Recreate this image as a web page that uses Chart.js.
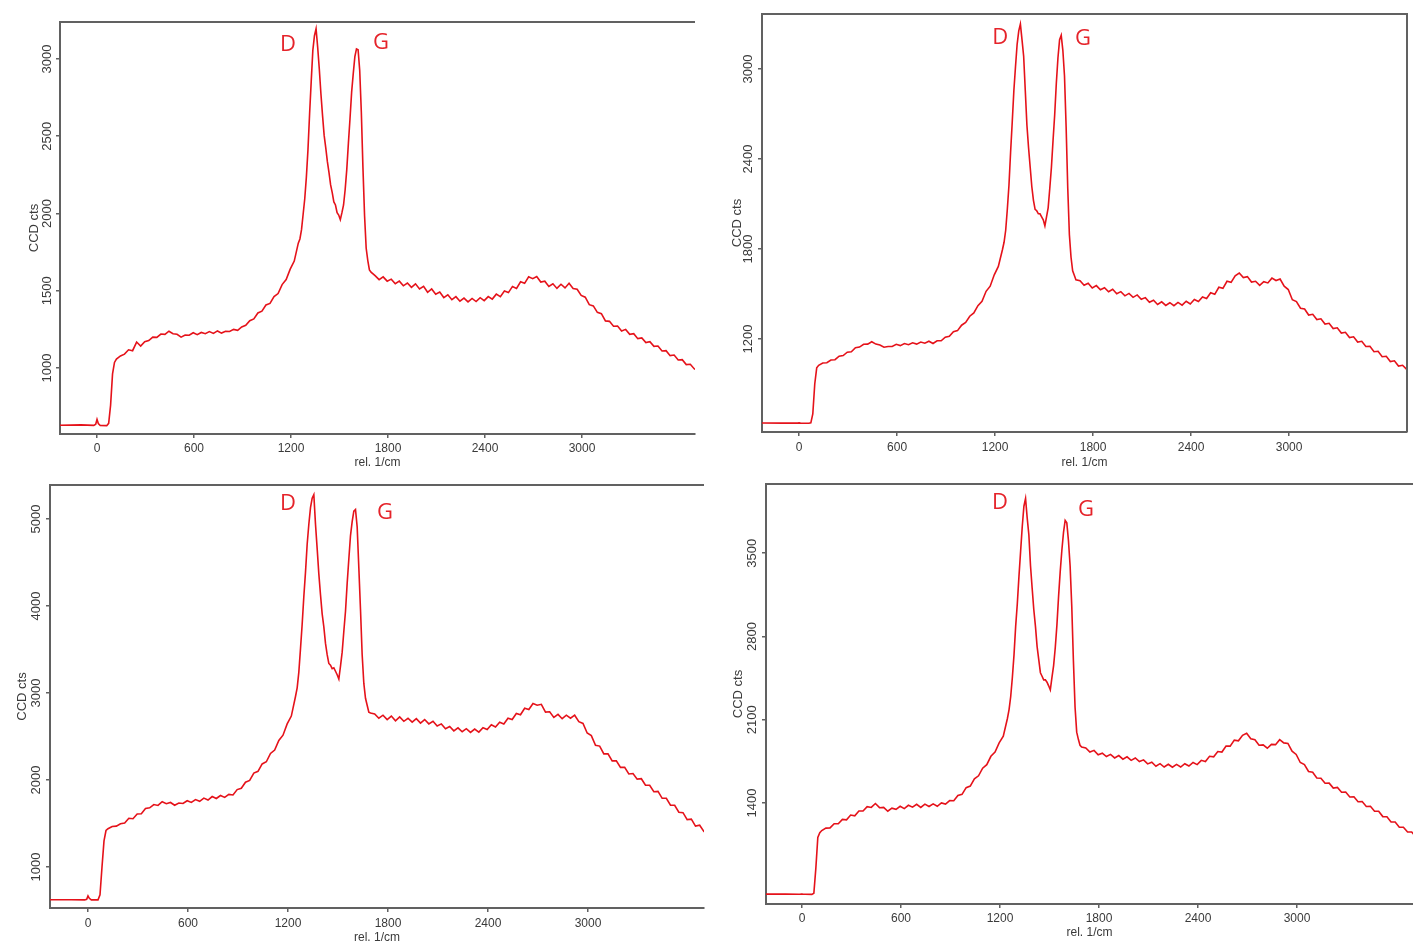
<!DOCTYPE html>
<html><head><meta charset="utf-8">
<script src="https://cdn.jsdelivr.net/npm/chart.js@4.4.0/dist/chart.umd.min.js"></script>
<style>
html,body{margin:0;padding:0;background:#fff;width:1413px;height:945px;overflow:hidden;position:relative}
canvas{position:absolute;display:block}
</style></head><body>
<canvas id="c1" width="705" height="470" style="left:0px;top:0px;width:705px;height:470px"></canvas>
<canvas id="c2" width="708" height="470" style="left:705px;top:0px;width:708px;height:470px"></canvas>
<canvas id="c3" width="705" height="475" style="left:0px;top:470px;width:705px;height:475px"></canvas>
<canvas id="c4" width="708" height="475" style="left:705px;top:470px;width:708px;height:475px"></canvas>
<script>
// Raman shift (rel. 1/cm) shared by all four spectra
const shift = [
-230,-100,-20,-8,0,8,20,60,72,84,96,108,120,
145,170,195,220,245,270,295,320,345,370,395,420,445,470,495,520,545,570,595,620,645,670,695,720,745,770,795,820,845,870,895,920,945,970,995,1020,1045,1070,1095,1120,1145,1170,1195,1220,1245,
1255,1265,1275,1285,1295,1305,1315,1325,1335,1345,1355,1365,1375,1385,1395,1405,1415,1425,1435,1445,1455,1465,1475,1485,1495,1505,1515,1525,1535,1545,1555,1565,1575,1585,1595,1605,1615,1625,1635,1645,1655,1665,1675,1685,1695,
1720,1745,1770,1795,1820,1845,1870,1895,1920,1945,1970,1995,2020,2045,2070,2095,2120,2145,2170,2195,2220,2245,2270,2295,2320,2345,2370,2395,2420,2445,2470,2495,2520,2545,2570,2595,2620,2645,2670,2695,2720,2745,2770,2795,2820,2845,2870,2895,2920,2945,2970,2995,3020,3045,3070,3095,3120,3145,3170,3195,3220,3245,3270,3295,3320,3345,3370,3395,3420,3445,3470,3495,3520,3545,3570,3595,3620,3645,3670,3695,3720
];
// CCD counts, panel 1 (top left)
const counts1 = [
630,632,629,636,668,641,628,627,642,760,962,1036,1058,
1078,1090,1118,1112,1168,1142,1170,1178,1200,1198,1220,1218,1238,1222,1218,1200,1214,1212,1228,1216,1230,1222,1236,1224,1240,1226,1238,1236,1250,1244,1266,1276,1306,1318,1356,1368,1408,1418,1462,1482,1540,1572,1640,1692,1808,
1835,1895,1995,2095,2235,2415,2645,2855,3055,3150,3195,3075,2935,2775,2635,2505,2425,2335,2265,2185,2135,2075,2055,2005,1990,1960,2005,2055,2155,2285,2455,2615,2785,2905,3015,3065,3060,2925,2655,2295,1985,1775,1695,1635,1620,
1598,1572,1590,1562,1575,1545,1562,1532,1550,1522,1545,1512,1528,1490,1512,1478,1492,1456,1474,1442,1462,1432,1452,1428,1450,1430,1455,1436,1462,1446,1478,1462,1498,1488,1528,1515,1558,1548,1590,1578,1592,1556,1562,1528,1545,1515,1542,1518,1548,1515,1510,1470,1458,1410,1402,1360,1352,1305,1302,1270,1272,1240,1250,1218,1222,1190,1195,1165,1170,1140,1142,1110,1112,1080,1084,1052,1054,1022,1024,994,982
];
// CCD counts, panel 2 (top right)
const counts2 = [
640,639,640,639,641,639,638,638,641,700,900,1008,1025,
1040,1042,1060,1062,1085,1090,1112,1115,1142,1146,1165,1166,1182,1166,1160,1145,1150,1150,1165,1156,1170,1162,1175,1166,1180,1172,1185,1170,1188,1188,1212,1218,1248,1256,1292,1310,1352,1374,1422,1452,1518,1552,1628,1684,1795,
1845,1925,2065,2225,2445,2645,2855,3015,3165,3255,3300,3195,3085,2855,2625,2475,2345,2215,2125,2065,2055,2035,2035,2015,1995,1955,2015,2075,2205,2345,2525,2695,2905,3075,3195,3225,3125,2955,2615,2205,1895,1745,1655,1625,1595,
1588,1558,1572,1540,1556,1528,1542,1515,1532,1502,1516,1488,1504,1478,1494,1465,1476,1445,1458,1430,1448,1424,1442,1422,1444,1426,1452,1434,1464,1450,1480,1470,1508,1498,1545,1538,1585,1578,1622,1640,1610,1616,1580,1585,1558,1582,1574,1606,1590,1600,1552,1530,1462,1450,1405,1400,1360,1365,1330,1335,1300,1305,1270,1275,1240,1245,1210,1215,1180,1185,1150,1152,1115,1118,1082,1085,1050,1055,1020,1025,998
];
// CCD counts, panel 3 (bottom left)
const counts3 = [
623,624,622,628,668,640,622,622,680,1000,1300,1420,1440,
1465,1470,1498,1505,1560,1555,1610,1612,1672,1680,1718,1708,1750,1728,1742,1710,1735,1730,1762,1742,1775,1755,1792,1770,1810,1788,1822,1800,1835,1828,1890,1905,1975,1995,2080,2100,2185,2210,2305,2345,2455,2515,2645,2735,2960,
3060,3240,3510,3790,4110,4390,4710,4940,5130,5240,5280,4940,4660,4370,4130,3910,3760,3570,3440,3340,3320,3280,3290,3250,3210,3160,3310,3470,3710,3940,4260,4540,4810,4970,5090,5110,4910,4440,3960,3440,3110,2940,2860,2780,2770,
2760,2710,2745,2695,2735,2680,2725,2675,2710,2665,2705,2655,2695,2645,2675,2620,2645,2590,2615,2565,2600,2555,2590,2548,2585,2550,2600,2580,2635,2610,2665,2645,2710,2695,2765,2750,2825,2810,2880,2860,2870,2780,2785,2720,2755,2705,2745,2710,2745,2670,2650,2540,2510,2400,2390,2300,2300,2220,2220,2145,2145,2070,2075,2010,2015,1940,1940,1865,1870,1790,1790,1710,1710,1630,1625,1545,1550,1470,1480,1410,1420
];
// CCD counts, panel 4 (bottom right)
const counts4 = [
633,634,632,633,634,632,632,631,640,850,1110,1150,1168,
1188,1190,1225,1225,1262,1258,1298,1292,1332,1332,1368,1362,1395,1360,1362,1330,1356,1346,1372,1352,1380,1364,1388,1362,1390,1370,1392,1372,1400,1390,1420,1418,1462,1472,1528,1542,1602,1628,1692,1722,1792,1828,1905,1962,2110,
2185,2295,2455,2645,2885,3075,3305,3515,3725,3895,3960,3795,3655,3395,3205,3025,2885,2715,2605,2495,2465,2435,2435,2415,2385,2350,2455,2555,2705,2895,3135,3345,3525,3675,3775,3755,3605,3395,3055,2595,2205,1995,1935,1885,1870,
1862,1828,1842,1805,1818,1790,1808,1778,1798,1768,1788,1758,1778,1748,1762,1728,1742,1708,1730,1702,1725,1700,1724,1702,1730,1710,1740,1722,1758,1748,1792,1788,1832,1828,1878,1878,1928,1922,1968,1985,1940,1932,1885,1888,1860,1892,1890,1932,1905,1900,1835,1808,1740,1722,1665,1658,1610,1608,1565,1566,1525,1530,1490,1492,1450,1452,1410,1412,1370,1372,1330,1330,1285,1284,1240,1240,1196,1196,1155,1156,1115
];
// tick labels
const xTicks = [0, 600, 1200, 1800, 2400, 3000];
const yTicks1 = [1000, 1500, 2000, 2500, 3000];
const yTicks2 = [1200, 1800, 2400, 3000];
const yTicks3 = [1000, 2000, 3000, 4000, 5000];
const yTicks4 = [1400, 2100, 2800, 3500];
// peak labels
const peakNames = ['D', 'G'];
const peakAt1 = [[1181, 3091], [1757, 3103]];
const peakAt2 = [[1231, 3207], [1739, 3200]];
const peakAt3 = [[1200, 5173], [1782, 5069]];
const peakAt4 = [[1200, 3922], [1721, 3863]];

const AXIS = '#616161';
const TXT = '#3a3a3a';
const FONT = '"Liberation Sans", Arial, sans-serif';
const RED = '#e5121a';

const framePlugin = {
  id: 'frame',
  afterDraw(chart, args, o) {
    const {ctx, chartArea: a} = chart;
    ctx.save();
    ctx.strokeStyle = AXIS; ctx.lineWidth = 2;
    ctx.beginPath();
    if (o.top) { ctx.moveTo(a.left - 1, a.top); ctx.lineTo(a.right + (o.right ? 1 : 0), a.top); }
    if (o.right) { ctx.moveTo(a.right, a.top); ctx.lineTo(a.right, a.bottom); }
    ctx.stroke();
    ctx.fillStyle = '#e5232a';
    ctx.font = '22px "Open Sans", "Liberation Sans", sans-serif';
    ctx.textAlign = 'center'; ctx.textBaseline = 'middle';
    const xs = chart.scales.x, ys = chart.scales.y;
    (o.peaks || []).forEach((p, i) => {
      ctx.fillText(peakNames[i], xs.getPixelForValue(p[0]), ys.getPixelForValue(p[1]));
    });
    ctx.restore();
  }
};

function makeChart(id, counts, L) {
  const pts = shift.map((x, i) => ({x: x, y: counts[i]}));
  return new Chart(document.getElementById(id), {
    type: 'line',
    data: {datasets: [{data: pts, borderColor: RED, borderWidth: 1.6, pointRadius: 0, tension: 0, fill: false}]},
    options: {
      responsive: false, animation: false, devicePixelRatio: 1,
      layout: {padding: {top: L.padTop, right: L.padRight, left: 0, bottom: L.padBottom || 0}},
      plugins: {legend: {display: false}, tooltip: {enabled: false},
        frame: {top: true, right: !!L.right, peaks: L.peaks}},
      scales: {
        x: {
          type: 'linear', min: L.xMin, max: L.xMax,
          afterBuildTicks: s => { s.ticks = xTicks.map(v => ({value: v})); },
          afterFit: s => { s.height = L.xH; },
          border: {display: true, color: AXIS, width: 2},
          grid: {display: true, drawOnChartArea: false, drawTicks: true, tickLength: 4, color: AXIS, lineWidth: 1.5},
          ticks: {padding: L.xPad, color: TXT, font: {family: FONT, size: 12}, maxRotation: 0, minRotation: 0, callback: v => String(v)},
          title: {display: true, text: 'rel. 1/cm', color: TXT, font: {family: FONT, size: 12}, padding: {top: 0, bottom: L.xTitlePad}}
        },
        y: {
          type: 'linear', min: L.yMin, max: L.yMax,
          afterBuildTicks: s => { s.ticks = L.yTicks.map(v => ({value: v})); },
          afterFit: s => { s.width = L.yW; },
          border: {display: true, color: AXIS, width: 2},
          grid: {display: true, drawOnChartArea: false, drawTicks: true, tickLength: 4, color: AXIS, lineWidth: 1.5},
          ticks: {padding: L.yPad, color: TXT, font: {family: FONT, size: 13}, minRotation: 90, maxRotation: 90, crossAlign: 'center', callback: v => String(v)},
          title: {display: true, text: 'CCD cts', color: TXT, font: {family: FONT, size: 13}, padding: {top: L.yTitlePad, bottom: 0}}
        }
      }
    },
    plugins: [framePlugin]
  });
}

makeChart('c1', counts1, {padTop: 22, padRight: 10, xH: 36, yW: 60, xMin: -229, xMax: 3699, yMin: 573, yMax: 3239,
  yTicks: yTicks1, xPad: 3.5, xTitlePad: 0, yPad: -5.5, yTitlePad: 26.2, peaks: peakAt1});
makeChart('c2', counts2, {padTop: 14, padRight: 6, xH: 38, yW: 57, xMin: -227, xMax: 3722, yMin: 580, yMax: 3367,
  yTicks: yTicks2, xPad: 4.5, xTitlePad: 0, yPad: -4.5, yTitlePad: 24.2, right: true, peaks: peakAt2});
makeChart('c3', counts3, {padTop: 15, padRight: 1, xH: 37, yW: 50, xMin: -228, xMax: 3696, yMin: 529, yMax: 5391,
  yTicks: yTicks3, xPad: 4.5, xTitlePad: 0, yPad: -4.5, yTitlePad: 14.2, peaks: peakAt3});
makeChart('c4', counts4, {padTop: 14, padRight: 0, xH: 41, yW: 61, xMin: -218, xMax: 3703, yMin: 550, yMax: 4082,
  yTicks: yTicks4, xPad: 3.5, xTitlePad: 5, yPad: -4.5, yTitlePad: 25.2, peaks: peakAt4});
</script>
</body></html>
